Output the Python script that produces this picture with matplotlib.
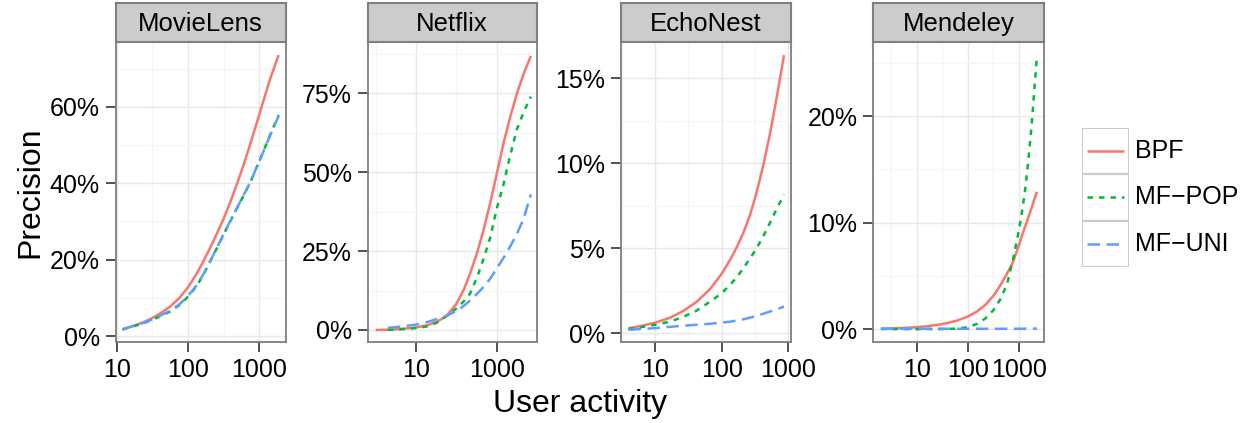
import numpy as np
import matplotlib
matplotlib.use("Agg")
import matplotlib.pyplot as plt
from matplotlib.ticker import FixedLocator, NullFormatter, FuncFormatter
from matplotlib.patches import Rectangle

plt.rcParams['font.family'] = ['Liberation Sans', 'DejaVu Sans']

nan = np.nan

# ---- data (precision in %) ----
datasets = ["MovieLens", "Netflix", "EchoNest", "Mendeley"]
methods = ["BPF", "MF\u2212POP", "MF\u2212UNI"]

ml_x = [12, 15, 20, 25, 30, 40, 56, 77, 100, 132, 164, 203, 252, 313, 388, 481, 597, 740, 918, 1138, 1413, 1860]
ml_bpf = [1.75, 2.3, 3.1, 3.8, 4.5, 5.8, 7.7, 10.1, 12.8, 16.3, 19.6, 23.0, 26.7, 30.6, 34.9, 39.6, 44.7, 50.1, 55.8, 61.6, 67.3, 73.6]
ml_pop = [1.7, 2.25, 2.9, 3.5, 4.1, 5.1, 6.4, 8.2, 10.3, 13.1, 16.0, 19.4, 22.9, 26.5, 29.9, 33.3, 36.7, 40.1, 44.2, 48.4, 52.7, 57.9]
ml_uni = [1.75, 2.3, 3.0, 3.6, 4.2, 5.3, 6.6, 8.4, 10.5, 13.3, 16.2, 19.5, 23.0, 26.6, 30.0, 33.4, 36.8, 40.2, 44.2, 48.3, 52.5, 57.6]

nf_x = [1, 2, 3, 5, 10, 20, 35, 57, 100, 150, 220, 320, 470, 680, 1000, 1460, 2140, 3130, 4600, 7000]
nf_bpf = [0.0, 0.1, 0.2, 0.4, 0.8, 1.6, 2.8, 4.5, 8.3, 12.6, 18.0, 24.2, 31.6, 40.0, 49.5, 59.0, 67.4, 74.8, 81.1, 86.9]
nf_pop = [nan, 0.05, 0.1, 0.3, 0.6, 1.2, 2.5, 4.4, 6.8, 9.0, 11.6, 16.5, 22.5, 29.0, 38.5, 46.0, 55.2, 63.5, 69.0, 74.0]
nf_uni = [nan, 0.7, 0.9, 1.2, 1.7, 2.6, 3.6, 4.5, 6.0, 7.6, 9.4, 11.4, 13.6, 16.2, 19.5, 22.8, 26.4, 30.4, 35.2, 43.0]

en_x = [4, 6, 10, 17, 27, 42, 67, 100, 133, 168, 211, 266, 335, 422, 531, 668, 861]
en_bpf = [0.3, 0.42, 0.62, 0.92, 1.33, 1.85, 2.6, 3.5, 4.3, 5.05, 5.9, 6.95, 8.3, 9.9, 11.75, 13.85, 16.35]
en_pop = [0.25, 0.35, 0.5, 0.69, 0.98, 1.33, 1.86, 2.35, 2.84, 3.29, 3.82, 4.4, 5.0, 5.72, 6.5, 7.32, 8.15]
en_uni = [0.2, 0.25, 0.3, 0.38, 0.45, 0.5, 0.56, 0.63, 0.68, 0.75, 0.82, 0.92, 1.03, 1.15, 1.28, 1.4, 1.57]

md_x = [2, 5, 10, 18, 33, 61, 100, 150, 219, 318, 430, 582, 762, 1000, 1127, 1312, 1525, 1771, 1968, 2253]
md_bpf = [0.05, 0.12, 0.2, 0.31, 0.5, 0.81, 1.19, 1.66, 2.28, 3.15, 4.1, 5.2, 6.3, 7.9, 8.7, 9.6, 10.5, 11.4, 12.1, 12.9]
md_pop = [0.02, 0.02, 0.02, 0.02, 0.02, 0.06, 0.2, 0.5, 1.0, 1.8, 2.8, 4.2, 6.5, 9.3, 10.8, 13.0, 15.8, 19.2, 22.1, 25.7]
md_uni = [0.05, 0.05, 0.05, 0.05, 0.05, 0.05, 0.05, 0.05, 0.05, 0.05, 0.05, 0.05, 0.05, 0.05, 0.05, 0.06, 0.06, 0.06, 0.06, 0.07]

xs = [ml_x, nf_x, en_x, md_x]
ys = [[ml_bpf, ml_pop, ml_uni], [nf_bpf, nf_pop, nf_uni],
      [en_bpf, en_pop, en_uni], [md_bpf, md_pop, md_uni]]

y_major = [[0, 20, 40, 60], [0, 25, 50, 75], [0, 5, 10, 15], [0, 10, 20]]
x_major = [[10, 100, 1000], [10, 1000], [10, 100, 1000], [10, 100, 1000]]

# ---- styling / layout ----
colors = ["#F8766D", "#00BA38", "#619CFF"]
dashes = [None, (2.2, 2.4), (5, 2.6)]
LW = 1.8

W, H = 1251, 423
panels_px = [(115.7, 285.7), (367.7, 536.7), (621, 790.7), (873.3, 1044.3)]
top_px, bot_px, strip_top = 41.7, 342.3, 2.7
xlims_log = [(0.986, 3.369), (-0.198, 3.99), (0.49, 3.035), (0.153, 3.495)]
ylims = [(-1.65, 77.1), (-3.9, 91.4), (-0.53, 17.14), (-1.22, 26.97)]

fig = plt.figure(figsize=(W / 100, H / 100), dpi=100)

for i, name in enumerate(datasets):
    l, r = panels_px[i]
    ax = fig.add_axes([l / W, 1 - bot_px / H, (r - l) / W, (bot_px - top_px) / H])
    ax.set_xscale('log')
    for k in range(3):
        line, = ax.plot(xs[i], ys[i][k], color=colors[k], lw=LW,
                        solid_capstyle='butt', solid_joinstyle='round')
        if dashes[k] is not None:
            line.set_dashes(dashes[k])
            line.set_dash_capstyle('butt')
    ax.set_xlim(10 ** xlims_log[i][0], 10 ** xlims_log[i][1])
    ax.set_ylim(*ylims[i])

    xm = x_major[i]
    ax.xaxis.set_major_locator(FixedLocator(xm))
    ax.xaxis.set_major_formatter(FuncFormatter(lambda v, p: "%d" % round(v)))
    step = np.log10(xm[1]) - np.log10(xm[0])
    lo = np.log10(xm[0]) - step / 2
    ax.xaxis.set_minor_locator(FixedLocator([10 ** (lo + step * j) for j in range(6)]))
    ax.xaxis.set_minor_formatter(NullFormatter())

    ym = y_major[i]
    ax.yaxis.set_major_locator(FixedLocator(ym))
    ax.yaxis.set_major_formatter(FuncFormatter(lambda v, p: "%g%%" % v))
    ystep = ym[1] - ym[0]
    ax.yaxis.set_minor_locator(FixedLocator([ystep / 2 + ystep * j for j in range(6)]))

    ax.set_axisbelow(True)
    ax.grid(which='major', color='#E8E8E8', lw=1.0)
    ax.grid(which='minor', color='#F5F5F5', lw=1.0)
    ax.tick_params(which='major', direction='out', length=7.5, width=1.2,
                   color='#333333', labelsize=18, labelcolor='black', pad=4)
    ax.tick_params(which='minor', length=0)
    for s in ax.spines.values():
        s.set_color('#7F7F7F')
        s.set_linewidth(1.3)

    # facet strip
    sx = fig.add_axes([l / W, 1 - top_px / H, (r - l) / W, (top_px - strip_top) / H])
    sx.set_facecolor('#CCCCCC')
    sx.set_xticks([])
    sx.set_yticks([])
    for s in sx.spines.values():
        s.set_color('#7F7F7F')
        s.set_linewidth(1.5)
    sx.text(0.5, 0.45, name, ha='center', va='center', fontsize=18.5, transform=sx.transAxes)

fig.text(30 / W, 1 - 192 / H, "Precision", rotation=90, ha='center', va='center', fontsize=23)
fig.text(580 / W, 1 - 404 / H, "User activity", ha='center', va='center', fontsize=23)

# legend (ggplot-style keys)
lg = fig.add_axes([1081.7 / W, 1 - 266.7 / H, (1129.3 - 1081.7) / W, (266.7 - 128.3) / H])
lg.set_xlim(0, 1)
lg.set_ylim(0, 3)
lg.axis('off')
for k in range(3):
    yk = 2 - k
    lg.add_patch(Rectangle((0, yk), 1, 1, facecolor='white', edgecolor='#CCCCCC', lw=1.5))
    ln, = lg.plot([0.12, 0.89], [yk + 0.5, yk + 0.5], color=colors[k], lw=LW, solid_capstyle='butt')
    if dashes[k] is not None:
        ln.set_dashes(dashes[k])
    lg.text(1.12, yk + 0.5, methods[k], ha='left', va='center', fontsize=18, clip_on=False)

fig.savefig("out.png", dpi=100)
